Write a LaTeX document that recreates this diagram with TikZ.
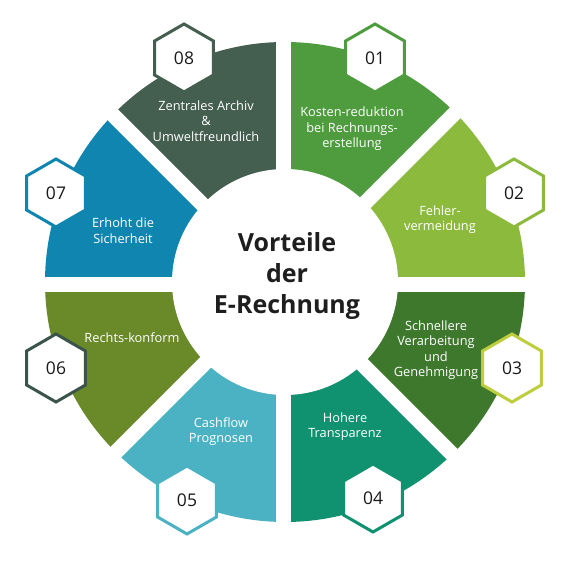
\documentclass[tikz,border=0pt]{standalone}
\usepackage{fontspec}
\setmainfont{Open Sans}
\usetikzlibrary{shapes.geometric,calc}
\definecolor{cA}{HTML}{4E9C3E}
\definecolor{cB}{HTML}{8CBA3C}
\definecolor{cC}{HTML}{3E782D}
\definecolor{cD}{HTML}{109170}
\definecolor{cE}{HTML}{4BB2C4}
\definecolor{cF}{HTML}{6A8928}
\definecolor{cG}{HTML}{0F85B0}
\definecolor{cH}{HTML}{445E50}
\definecolor{hexC}{HTML}{BECD3C}
\definecolor{hexF}{HTML}{3C554B}
\definecolor{titlecol}{HTML}{1E1E1E}
\tikzset{
  hexbox/.style={regular polygon, regular polygon sides=6, shape border rotate=30,
    minimum size=68pt, inner sep=0pt, fill=white, line width=3pt, draw=#1,
    font=\fontsize{17.5}{20}\selectfont, text=black!90},
  segtext/.style={align=center, text=white, font=\fontsize{12.8}{15.5}\selectfont},
  band/.style={white, line width=15pt}
}
\begin{document}
\begin{tikzpicture}[x=1pt,y=1pt]
\useasboundingbox (0,0) rectangle (572,572);
\coordinate (C) at (285,290);
\coordinate (B) at (283,287);
\begin{scope}
  \clip (C) circle (240);
  \fill[cA] (B) -- +(45:320) arc[start angle=45, end angle=90, radius=320] -- cycle;
  \fill[cB] (B) -- +(0:320) arc[start angle=0, end angle=45, radius=320] -- cycle;
  \fill[cC] (B) -- +(-45:320) arc[start angle=-45, end angle=0, radius=320] -- cycle;
  \fill[cD] (B) -- +(-90:320) arc[start angle=-90, end angle=-45, radius=320] -- cycle;
  \fill[cE] (B) -- +(-135:320) arc[start angle=-135, end angle=-90, radius=320] -- cycle;
  \fill[cF] (B) -- +(180:320) arc[start angle=180, end angle=225, radius=320] -- cycle;
  \fill[cG] (B) -- +(135:320) arc[start angle=135, end angle=180, radius=320] -- cycle;
  \fill[cH] (B) -- +(90:320) arc[start angle=90, end angle=135, radius=320] -- cycle;
\end{scope}
\draw[band] ($(B)+(0:300)$) -- ($(B)+(180:300)$);
\draw[band] ($(B)+(90:300)$) -- ($(B)+(270:300)$);
\draw[band] ($(B)+(45:300)$) -- ($(B)+(225:300)$);
\draw[band] ($(B)+(135:300)$) -- ($(B)+(315:300)$);
\fill[white] (C) circle (113);
% hexagons
\node[hexbox=cA] (h1) at (375,514) {01};
\node[hexbox=cB] (h2) at (514,379) {02};
\node[hexbox=hexC] (h3) at (512,204) {03};
\node[hexbox=cD] (h4) at (373,74) {04};
\node[hexbox=cE] (h5) at (187,72) {05};
\node[hexbox=hexF] (h6) at (56,204) {06};
\node[hexbox=cG] (h7) at (56,379) {07};
\node[hexbox=cH] (h8) at (184,514) {08};
% texts
\node[segtext] (t1) at (352,443) {Kosten-reduktion\\bei Rechnungs-\\erstellung};
\node[segtext] (t2) at (440,352.5) {Fehler-\\vermeidung};
\node[segtext] (t3) at (436,222) {Schnellere\\Verarbeitung\\und\\Genehmigung};
\node[segtext] (t4) at (345,145.5) {Hohere\\Transparenz};
\node[segtext] (t5) at (221,140.5) {Cashflow\\Prognosen};
\node[segtext] (t6) at (132,234) {Rechts-konform};
\node[segtext] (t7) at (123,341.5) {Erhoht die\\Sicherheit};
\node[segtext] (t8) at (206,451) {Zentrales Archiv\\\&\\Umweltfreundlich};
\node[align=center, text=titlecol, font=\fontsize{25}{31}\selectfont\bfseries] (title) at (287,296) {Vorteile\\der\\E-Rechnung};
\end{tikzpicture}
\end{document}
